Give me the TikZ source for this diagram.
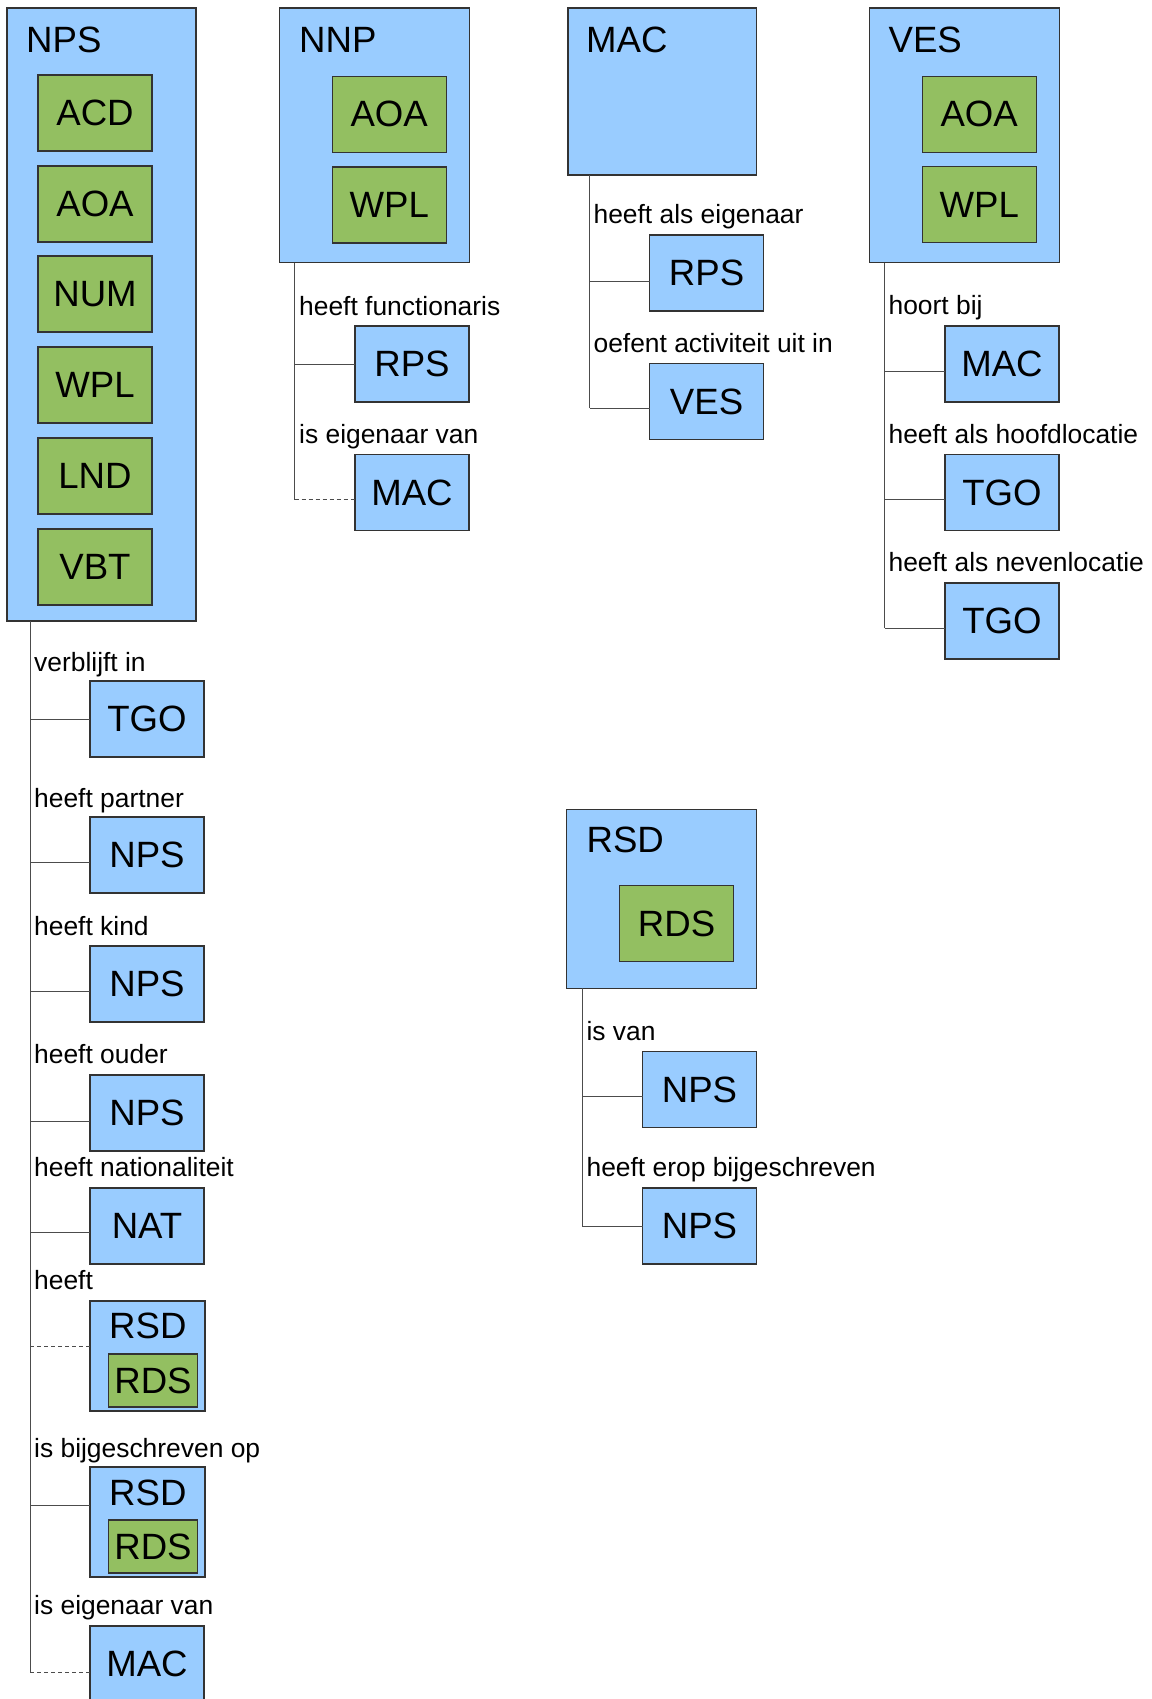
\documentclass[tikz,border=0pt]{standalone}
\usepackage{fontspec}
\setmainfont{Liberation Sans}
\definecolor{entblue}{RGB}{153,204,255}
\definecolor{attgreen}{RGB}{147,191,97}
\newcommand{\boxfont}{\fontsize{36.6}{40}\selectfont}
\newcommand{\relfont}{\fontsize{26.4}{30}\selectfont}
\tikzset{
  ent/.style={draw=black!80, fill=entblue, anchor=north west, inner sep=0pt, outer sep=0pt, line width=1.2pt, font=\boxfont},
  att/.style={draw=black!80, fill=attgreen, anchor=north west, inner sep=0pt, outer sep=0pt, line width=1.2pt, font=\boxfont},
  child/.style={ent, minimum width=114pt, minimum height=76pt},
  part/.style={att, minimum width=114pt, minimum height=76pt},
  lbl/.style={anchor=base west, inner sep=0pt, font=\boxfont},
  rel/.style={anchor=base west, inner sep=0pt, font=\relfont},
  link/.style={draw=black!70, line width=1pt},
  opt/.style={link, dash pattern=on 4pt off 3pt},
}
\begin{document}
\begin{tikzpicture}[x=1pt, y=-1pt]
\useasboundingbox (0,0) rectangle (1151,1699);
% NPS
\node[ent, minimum width=189pt, minimum height=613pt] (nps) at (7,8) {};
\node[lbl] (npsName) at (26,53) {NPS};
\node[part] (npsAcd) at (38,75) {ACD};
\node[part] (npsAoa) at (38,166) {AOA};
\node[part] (npsNum) at (38,256) {NUM};
\node[part] (npsWpl) at (38,347) {WPL};
\node[part] (npsLnd) at (38,438) {LND};
\node[part] (npsVbt) at (38,529) {VBT};
\coordinate (npsRoot) at (30.4,621);
\node[rel] (npsR1) at (34,671) {verblijft in};
\node[child] (npsTgo) at (90,681) {TGO};
\node[rel] (npsR2) at (34,807) {heeft partner};
\node[child] (npsPartner) at (90,817) {NPS};
\node[rel] (npsR3) at (34,935) {heeft kind};
\node[child] (npsKind) at (90,946) {NPS};
\node[rel] (npsR4) at (34,1063) {heeft ouder};
\node[child] (npsOuder) at (90,1075) {NPS};
\node[rel] (npsR5) at (34,1176) {heeft nationaliteit};
\node[child] (npsNat) at (90,1188) {NAT};
\node[rel] (npsR6) at (34,1289) {heeft};
\node[ent, minimum width=115pt, minimum height=110pt] (npsRsdA) at (90,1301) {};
\node[lbl] (npsRsdAName) at (109,1338) {RSD};
\node[att, minimum width=89pt, minimum height=53pt] (npsRdsA) at (108.5,1354) {RDS};
\node[rel] (npsR7) at (34,1457) {is bijgeschreven op};
\node[ent, minimum width=115pt, minimum height=110pt] (npsRsdB) at (90,1467) {};
\node[lbl] (npsRsdBName) at (109,1505) {RSD};
\node[att, minimum width=89pt, minimum height=53pt] (npsRdsB) at (108.5,1520) {RDS};
\node[rel] (npsR8) at (34,1614) {is eigenaar van};
\node[child] (npsMac) at (90,1626) {MAC};
% attach points
\coordinate (npsPartnerIn) at ([yshift=-7pt]npsPartner.west);
\coordinate (npsKindIn) at ([yshift=-7pt]npsKind.west);
\coordinate (npsOuderIn) at ([yshift=-8pt]npsOuder.west);
\coordinate (npsNatIn) at ([yshift=-6pt]npsNat.west);
\coordinate (npsRsdAIn) at ([yshift=10pt]npsRsdA.west);
\coordinate (npsRsdBIn) at ([yshift=17pt]npsRsdB.west);
\coordinate (npsMacIn) at ([yshift=-8pt]npsMac.west);
\draw[link] (npsRoot) -- (npsRoot |- npsMacIn);
\draw[link] (npsRoot |- npsTgo.west) -- (npsTgo.west);
\draw[link] (npsRoot |- npsPartnerIn) -- (npsPartnerIn);
\draw[link] (npsRoot |- npsKindIn) -- (npsKindIn);
\draw[link] (npsRoot |- npsOuderIn) -- (npsOuderIn);
\draw[link] (npsRoot |- npsNatIn) -- (npsNatIn);
\draw[opt] (npsRoot |- npsRsdAIn) -- (npsRsdAIn);
\draw[link] (npsRoot |- npsRsdBIn) -- (npsRsdBIn);
\draw[opt] (npsRoot |- npsMacIn) -- (npsMacIn);
% NNP
\node[ent, minimum width=190pt, minimum height=254.5pt] (nnp) at (279.4,8) {};
\node[lbl] (nnpName) at (299,53) {NNP};
\node[part] (nnpAoa) at (332.2,76.3) {AOA};
\node[part] (nnpWpl) at (332.2,167) {WPL};
\coordinate (nnpRoot) at (294.5,262.5);
\node[rel] (nnpR1) at (299,315) {heeft functionaris};
\node[child] (nnpRps) at (355,326) {RPS};
\node[rel] (nnpR2) at (299,443) {is eigenaar van};
\node[child] (nnpMac) at (355,454.5) {MAC};
\coordinate (nnpMacIn) at ([yshift=-7pt]nnpMac.west);
\draw[link] (nnpRoot) -- (nnpRoot |- nnpMacIn);
\draw[link] (nnpRoot |- nnpRps.west) -- (nnpRps.west);
\draw[opt] (nnpRoot |- nnpMacIn) -- (nnpMacIn);
% MAC
\node[ent, minimum width=188.5pt, minimum height=167pt] (mac) at (568,8) {};
\node[lbl] (macName) at (586,53) {MAC};
\coordinate (macRoot) at (589.7,175);
\node[rel] (macR1) at (593.4,223) {heeft als eigenaar};
\node[child] (macRps) at (649.6,235) {RPS};
\node[rel] (macR2) at (593.4,352.7) {oefent activiteit uit in};
\node[child] (macVes) at (649.6,363.4) {VES};
\coordinate (macRpsIn) at ([yshift=-8pt]macRps.west);
\coordinate (macVesIn) at ([yshift=-7pt]macVes.west);
\draw[link] (macRoot) -- (macRoot |- macVesIn);
\draw[link] (macRoot |- macRpsIn) -- (macRpsIn);
\draw[link] (macRoot |- macVesIn) -- (macVesIn);
% VES
\node[ent, minimum width=190pt, minimum height=254.5pt] (ves) at (869.3,8) {};
\node[lbl] (vesName) at (888.4,53) {VES};
\node[part] (vesAoa) at (922.2,76.3) {AOA};
\node[part] (vesWpl) at (922.2,166.5) {WPL};
\coordinate (vesRoot) at (884.7,262.5);
\node[rel] (vesR1) at (888.4,314.7) {hoort bij};
\node[child] (vesMac) at (945,326) {MAC};
\node[rel] (vesR2) at (888.4,443) {heeft als hoofdlocatie};
\node[child] (vesHoofd) at (945,454.5) {TGO};
\node[rel] (vesR3) at (888.4,571.4) {heeft als nevenlocatie};
\node[child] (vesNeven) at (945,583) {TGO};
\coordinate (vesMacIn) at ([yshift=-7pt]vesMac.west);
\coordinate (vesHoofdIn) at ([yshift=-7pt]vesHoofd.west);
\coordinate (vesNevenIn) at ([yshift=-7pt]vesNeven.west);
\draw[link] (vesRoot) -- (vesRoot |- vesNevenIn);
\draw[link] (vesRoot |- vesMacIn) -- (vesMacIn);
\draw[link] (vesRoot |- vesHoofdIn) -- (vesHoofdIn);
\draw[link] (vesRoot |- vesNevenIn) -- (vesNevenIn);
% RSD
\node[ent, minimum width=189.6pt, minimum height=179pt] (rsd) at (566.8,809.3) {};
\node[lbl] (rsdName) at (586.4,852.7) {RSD};
\node[part] (rsdRds) at (619.6,885.7) {RDS};
\coordinate (rsdRoot) at (582.2,988.3);
\node[rel] (rsdR1) at (586.4,1040) {is van};
\node[child] (rsdVan) at (642.5,1051.7) {NPS};
\node[rel] (rsdR2) at (586.4,1176.7) {heeft erop bijgeschreven};
\node[child] (rsdBij) at (642.5,1188) {NPS};
\coordinate (rsdVanIn) at ([yshift=-7pt]rsdVan.west);
\draw[link] (rsdRoot) -- (rsdRoot |- rsdBij.west);
\draw[link] (rsdRoot |- rsdVanIn) -- (rsdVanIn);
\draw[link] (rsdRoot |- rsdBij.west) -- (rsdBij.west);
\end{tikzpicture}
\end{document}
